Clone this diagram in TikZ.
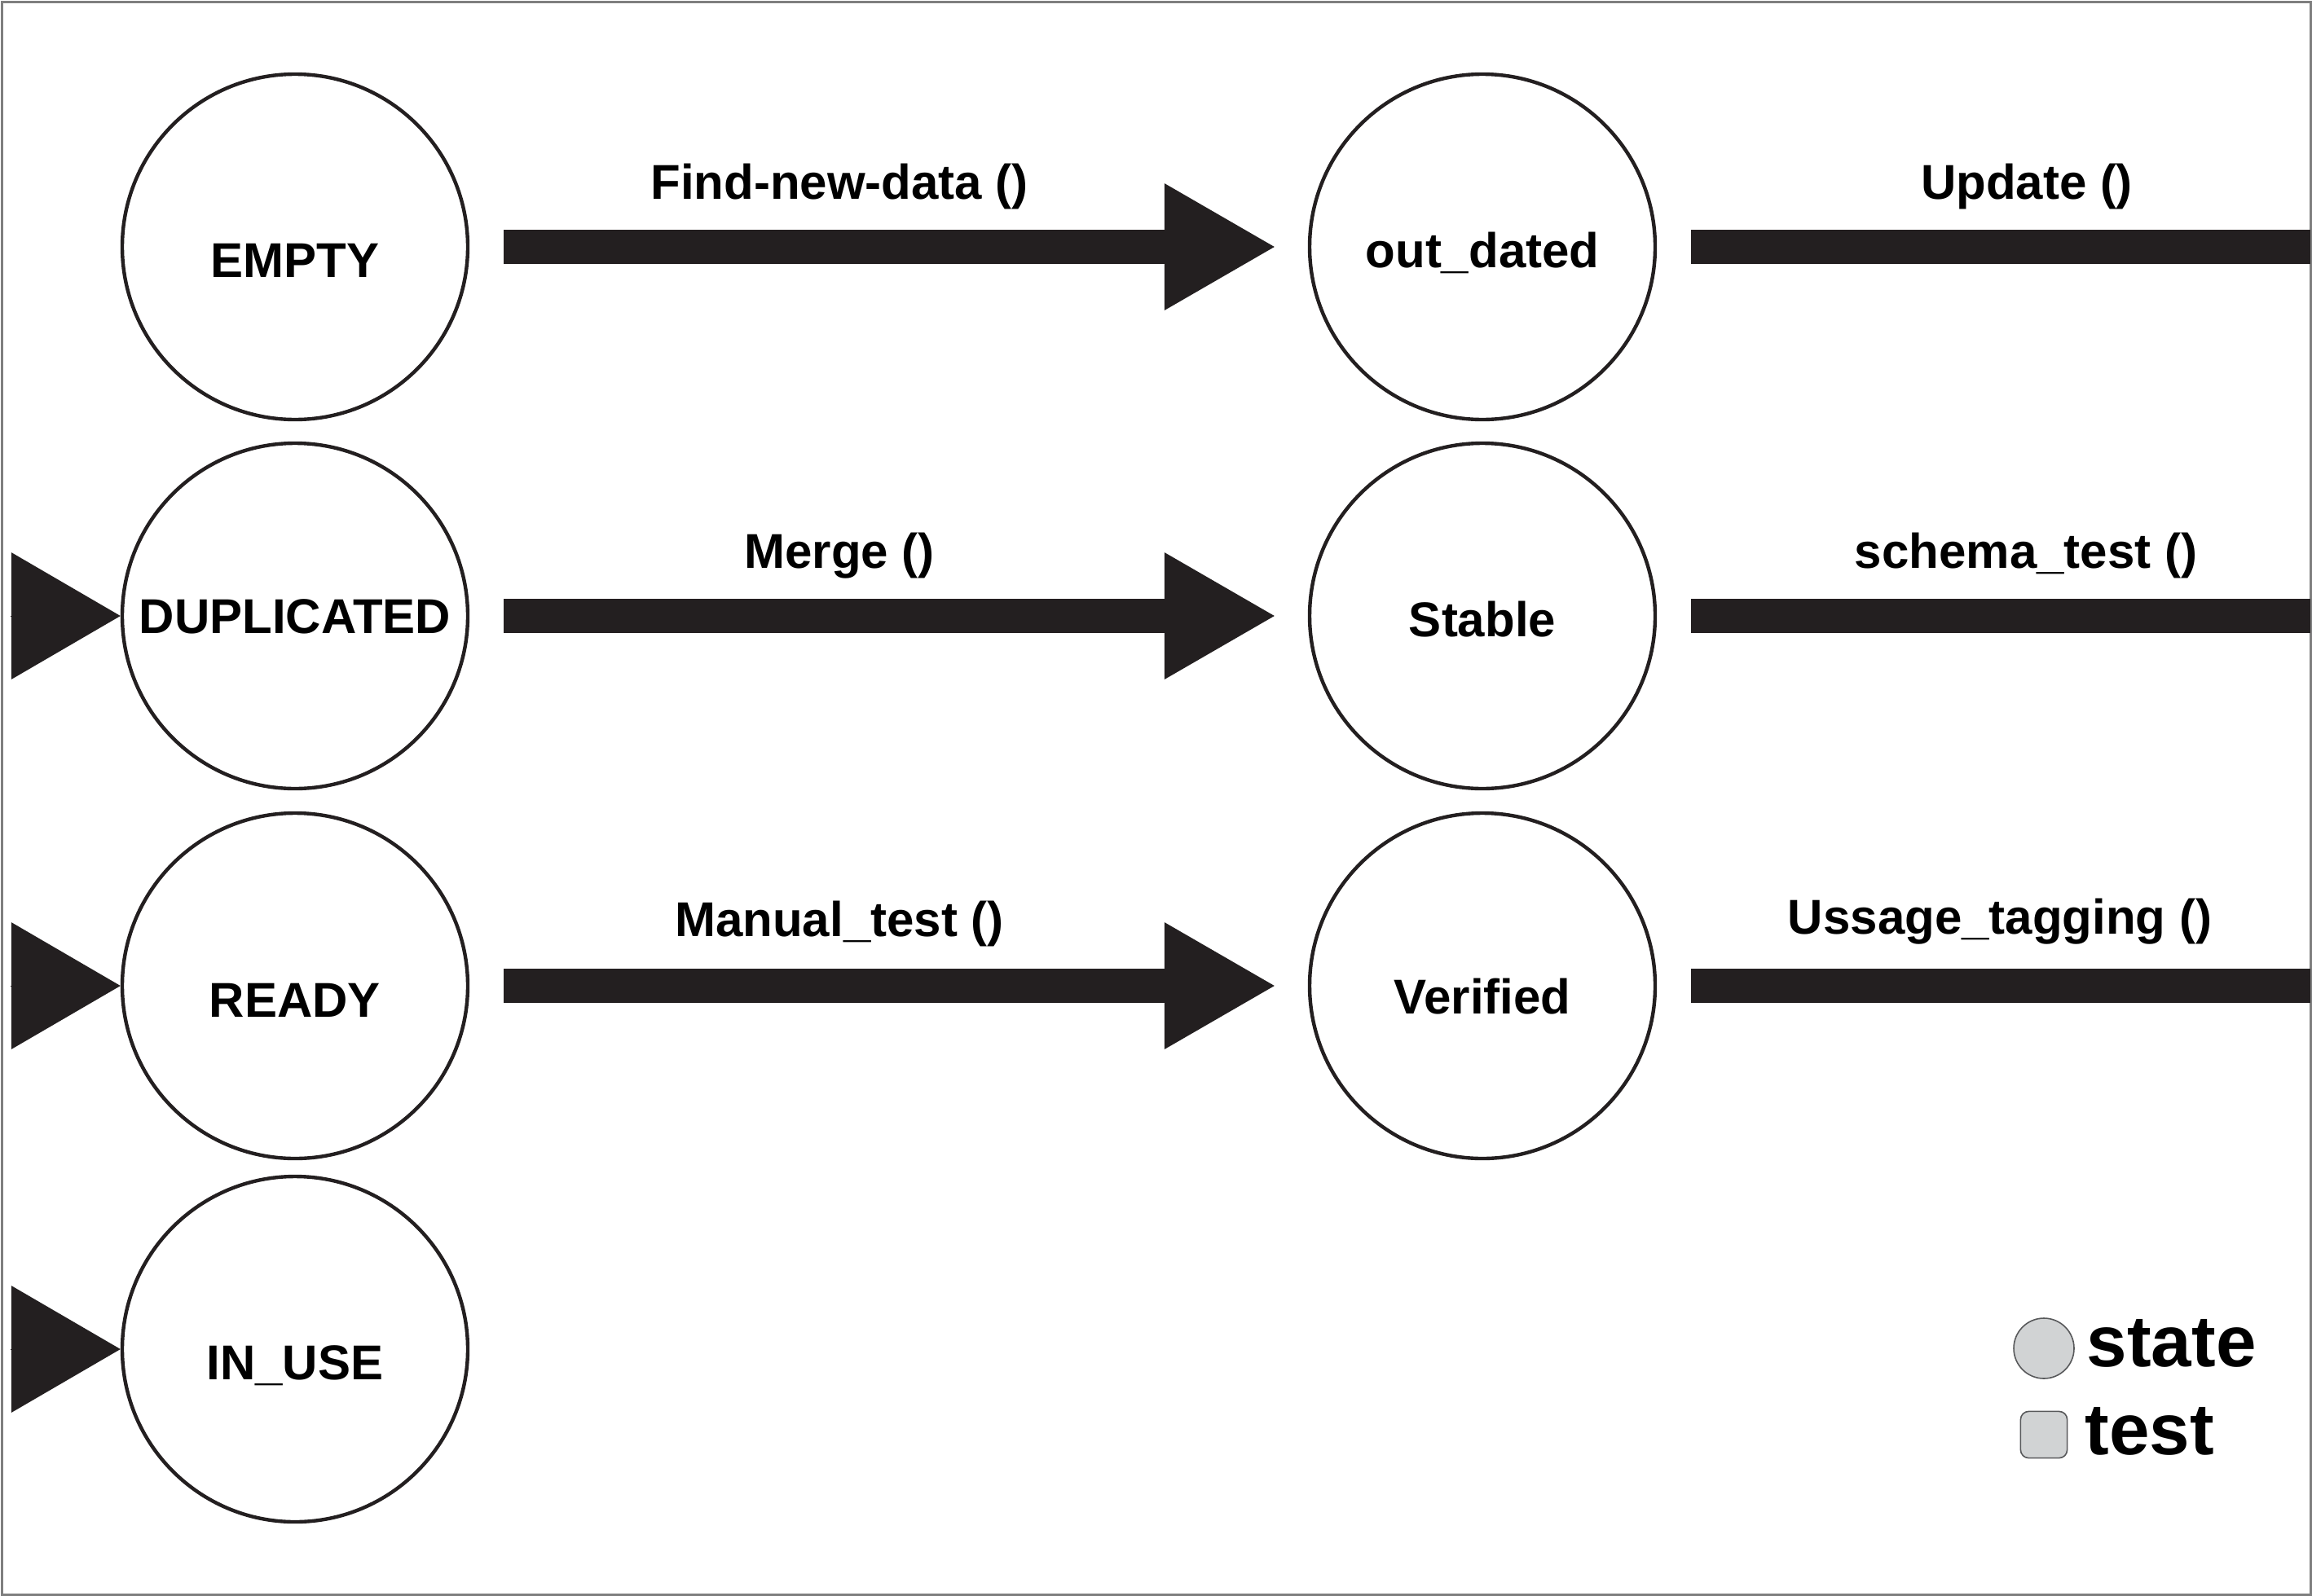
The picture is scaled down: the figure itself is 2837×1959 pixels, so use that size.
\documentclass[tikz,border=0pt]{standalone}
\usepackage{fontspec}
\setmainfont{Liberation Sans}
\usetikzlibrary{arrows.meta}
\definecolor{ink}{HTML}{231F20}
\definecolor{legendfill}{HTML}{D1D3D4}
\definecolor{legendline}{HTML}{58595B}
\definecolor{framegray}{HTML}{7F7F7F}
\tikzset{
  state/.style={circle,draw=ink,line width=1.1pt,minimum size=106pt,inner sep=0pt},
  statename/.style={anchor=base,inner sep=0pt,font=\fontsize{15pt}{18pt}\selectfont\bfseries},
  call/.style={anchor=base,inner sep=0pt,font=\fontsize{15pt}{18pt}\selectfont\bfseries},
  fatarrow/.style={draw=ink,line width=10.5pt,
    -{Triangle[length=33.75pt,width=39pt,line width=0pt]},
    shorten <=10.5pt,shorten >=10.25pt},
  fatbar/.style={draw=ink,line width=10.5pt,shorten <=10.5pt},
  inhead/.style={draw=ink,line width=0.1pt,
    -{Triangle[length=33.5pt,width=39pt,line width=0pt]}},
  legendtxt/.style={anchor=base west,inner sep=0pt,font=\fontsize{22.25pt}{26pt}\selectfont\bfseries}
}
\begin{document}
\begin{tikzpicture}[x=0.25pt,y=-0.25pt]
\useasboundingbox (0,0) rectangle (2837,1959);
\draw[framegray,line width=0.75pt] (2,2) rectangle (2835,1957);

% states
\node[state] (empty) at (362,303) {};
\node[state] (dup) at (362,756) {};
\node[state] (ready) at (362,1210) {};
\node[state] (inuse) at (362,1656) {};
\node[state] (outdated) at (1819,303) {};
\node[state] (stable) at (1819,756) {};
\node[state] (verified) at (1819,1210) {};

\node[statename] (emptyname) at ([yshift=-9.25pt]empty.center) {EMPTY};
\node[statename] (dupname) at ([yshift=-5.25pt]dup.center) {DUPLICATED};
\node[statename] (readyname) at ([yshift=-9.5pt]ready.center) {READY};
\node[statename] (inusename) at ([yshift=-9.25pt]inuse.center) {IN\_USE};
\node[statename] (outdatedname) at ([yshift=-6.25pt]outdated.center) {out\_dated};
\node[statename] (stablename) at ([yshift=-6.25pt]stable.center) {Stable};
\node[statename] (verifiedname) at ([yshift=-8.5pt]verified.center) {Verified};

% calls
\draw[fatarrow] (empty) -- (outdated);
\draw[fatarrow] (dup) -- (stable);
\draw[fatarrow] (ready) -- (verified);
\foreach \s/\y in {outdated/303,stable/756,verified/1210}
{
  \coordinate (\s out) at (2835,\y);
  \draw[fatbar] (\s) -- (\s out);
}
\foreach \s/\y in {dup/756,ready/1210,inuse/1656}
{
  \coordinate (\s in) at (13,\y);
  \draw[inhead] (\s in) -- (\s);
}

\node[call] (findlbl) at (1030,244) {Find-new-data ()};
\node[call] (mergelbl) at (1030,697) {Merge ()};
\node[call] (manuallbl) at (1030,1149) {Manual\_test ()};
\node[call] (updatelbl) at (2487,244) {Update ()};
\node[call] (schemalbl) at (2486,697) {schema\_test ()};
\node[call] (usagelbl) at (2454,1146) {Ussage\_tagging ()};

% legend
\node[circle,draw=legendline,fill=legendfill,line width=0.4pt,minimum size=18.5pt,inner sep=0pt] (legstate) at (2508,1655) {};
\node[rectangle,rounded corners=2.5pt,draw=legendline,fill=legendfill,line width=0.4pt,minimum size=14.3pt,inner sep=0pt] (legtest) at (2508,1761) {};
\node[legendtxt] (legstatetxt) at (2560,1677) {state};
\node[legendtxt] (legtesttxt) at (2558,1785) {test};
\end{tikzpicture}
\end{document}
